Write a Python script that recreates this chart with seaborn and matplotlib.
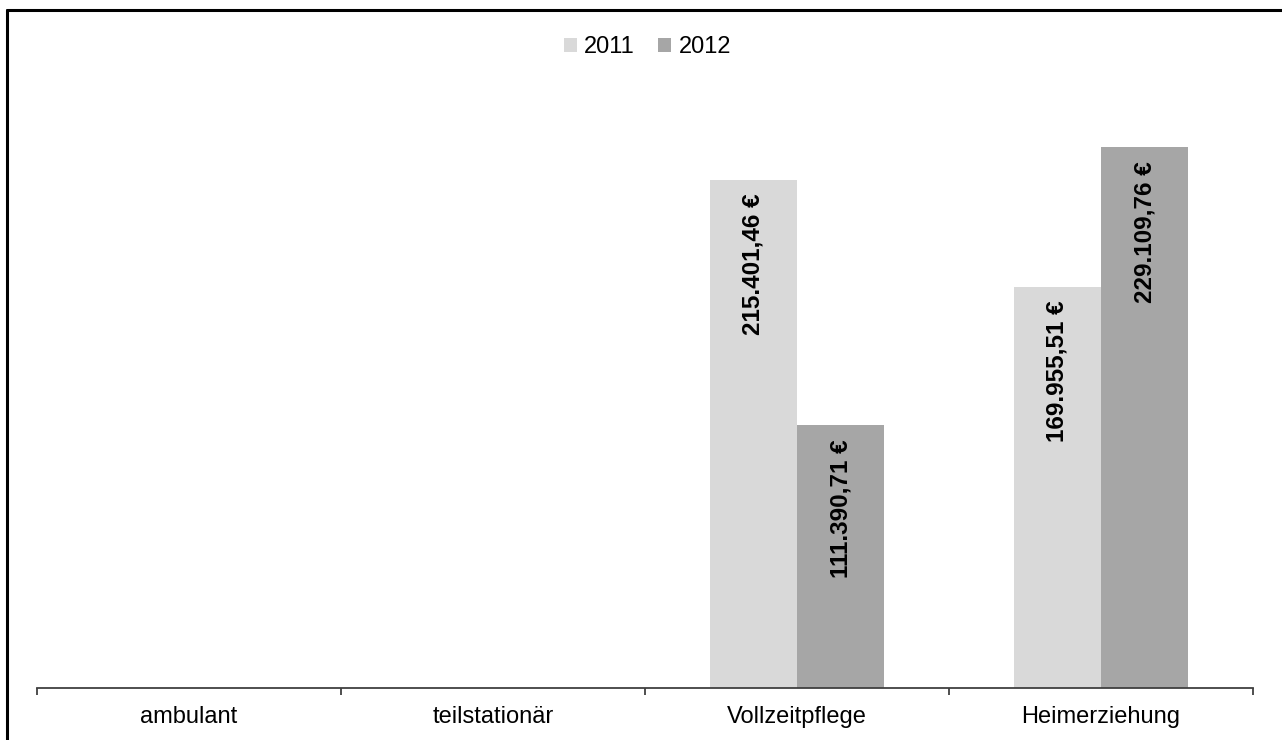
import numpy as np
import pandas as pd
import seaborn as sns
import matplotlib.pyplot as plt
from matplotlib.lines import Line2D

# Datos
kategorien = ["ambulant", "teilstationär", "Vollzeitpflege", "Heimerziehung"]
jahre = ["2011", "2012"]
werte_2011 = [np.nan, np.nan, 215401.46, 169955.51]
werte_2012 = [np.nan, np.nan, 111390.71, 229109.76]
farben = ["#d9d9d9", "#a6a6a6"]

df = pd.DataFrame({
    "Kategorie": kategorien * 2,
    "Jahr": ["2011"] * 4 + ["2012"] * 4,
    "Wert": werte_2011 + werte_2012,
})


def euro(v):
    s = f"{v:,.2f}".replace(",", "X").replace(".", ",").replace("X", ".")
    return s + " €"


sns.set_style("white")
plt.rcParams["font.family"] = ["Liberation Sans", "DejaVu Sans"]
plt.rcParams["text.color"] = "black"

fig = plt.figure(figsize=(12.82, 7.4), dpi=100)
ax = fig.add_axes([37 / 1282, 52 / 740, 1216 / 1282, 590 / 740])

sns.barplot(data=df, x="Kategorie", y="Wert", hue="Jahr", order=kategorien,
            hue_order=jahre, palette=farben, width=0.575, saturation=1,
            errorbar=None, linewidth=0, ax=ax)

# Etiquetas dentro de las barras
for cont in ax.containers:
    for bar in cont:
        h = bar.get_height()
        if np.isnan(h) or h == 0:
            continue
        ax.annotate(euro(h), (bar.get_x() + bar.get_width() / 2, h),
                    xytext=(0, -10), textcoords="offset points",
                    rotation=90, ha="center", va="top",
                    fontsize=17.5, fontweight="bold", color="black")

ax.set_xlim(-0.5, 3.5)
ax.set_ylim(0, 250000)
ax.set_xlabel("")
ax.set_ylabel("")
ax.set_yticks([])
for s in ["left", "right", "top"]:
    ax.spines[s].set_visible(False)
ax.spines["bottom"].set_color("#404040")
ax.spines["bottom"].set_linewidth(1.3)

ax.set_xticks(np.arange(-0.5, 4, 1), minor=True)
ax.tick_params(axis="x", which="minor", length=5, width=1.3, color="#404040",
               direction="out", bottom=True)
ax.tick_params(axis="x", which="major", length=0, pad=13, labelsize=17,
               labelcolor="black")

leg = ax.legend(loc="center", bbox_to_anchor=(0.505, 1 - 47 / 740),
                bbox_transform=fig.transFigure, ncol=2, frameon=False,
                fontsize=17, handlelength=0.55, handleheight=0.55,
                handletextpad=0.3, columnspacing=1.0)
for t in leg.get_texts():
    t.set_color("black")

# Marco
y_top = 1 - 10 / 740
x_left = 7 / 1282
fig.add_artist(Line2D([x_left, x_left], [0, y_top], transform=fig.transFigure,
                      color="black", linewidth=2.2))
fig.add_artist(Line2D([x_left, 1], [y_top, y_top], transform=fig.transFigure,
                      color="black", linewidth=2.2))

fig.savefig("out.png", dpi=100, facecolor="white")
